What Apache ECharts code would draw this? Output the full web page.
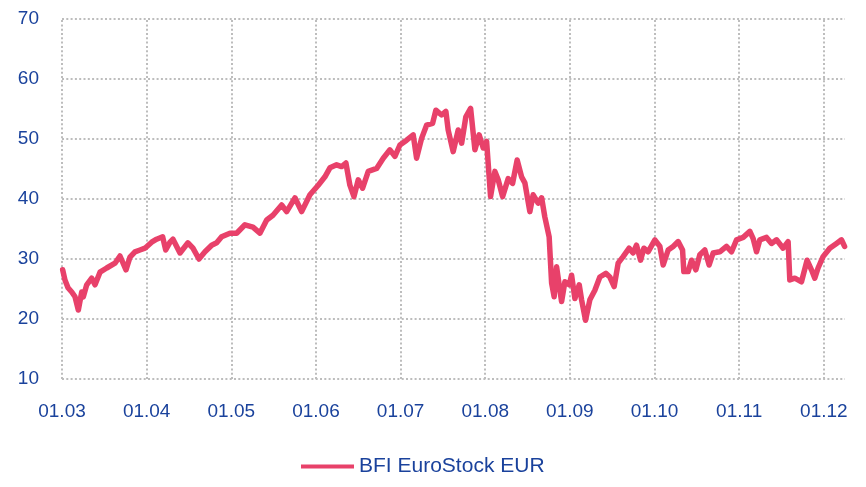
<!DOCTYPE html>
<html>
<head>
<meta charset="utf-8">
<title>BFI EuroStock EUR</title>
<script src="https://cdn.jsdelivr.net/npm/echarts@6/dist/echarts.min.js"></script>
<style>
  html, body { margin: 0; padding: 0; background: #fff; }
  #chart { width: 866px; height: 487px; }
</style>
</head>
<body>
<div id="chart"></div>
<script>
// time in years since 2003-01-01
const years = [
  0.008, 0.035, 0.071, 0.115, 0.154, 0.193, 0.233, 0.252, 0.292, 0.351,
  0.390, 0.449, 0.528, 0.626, 0.685, 0.756, 0.803, 0.862, 0.921, 0.980,
  1.059, 1.118, 1.189, 1.225, 1.276, 1.311, 1.394, 1.488, 1.547, 1.618,
  1.689, 1.768, 1.827, 1.886, 1.984, 2.063, 2.161, 2.256, 2.338, 2.418,
  2.492, 2.595, 2.654, 2.752, 2.831, 2.929, 3.027, 3.106, 3.165, 3.244,
  3.303, 3.354, 3.401, 3.449, 3.500, 3.551, 3.618, 3.717, 3.795, 3.874,
  3.933, 3.992, 4.071, 4.149, 4.189, 4.248, 4.307, 4.378, 4.417, 4.484,
  4.535, 4.562, 4.621, 4.681, 4.721, 4.771, 4.827, 4.878, 4.928, 4.976,
  5.016, 5.063, 5.114, 5.153, 5.205, 5.271, 5.323, 5.377, 5.429, 5.468,
  5.527, 5.566, 5.625, 5.666, 5.704, 5.755, 5.784, 5.814, 5.843, 5.882,
  5.902, 5.941, 5.992, 6.020, 6.059, 6.110, 6.138, 6.185, 6.236, 6.295,
  6.354, 6.425, 6.472, 6.523, 6.570, 6.629, 6.700, 6.747, 6.787, 6.835,
  6.874, 6.924, 7.004, 7.063, 7.102, 7.161, 7.220, 7.279, 7.331, 7.346,
  7.397, 7.437, 7.488, 7.535, 7.594, 7.645, 7.692, 7.771, 7.850, 7.910,
  7.969, 8.047, 8.126, 8.165, 8.205, 8.244, 8.323, 8.382, 8.441, 8.519,
  8.578, 8.598, 8.657, 8.736, 8.802, 8.854, 8.893, 8.932, 8.991, 9.070,
  9.150, 9.208, 9.245
];
const prices = [
  28.2, 26.5, 25.2, 24.5, 23.7, 21.5, 24.5, 23.7, 25.7, 26.8,
  25.7, 27.8, 28.5, 29.3, 30.5, 28.2, 30.3, 31.2, 31.5, 31.8,
  32.8, 33.3, 33.7, 31.5, 32.8, 33.3, 31.0, 32.7, 31.8, 30.0,
  31.2, 32.3, 32.7, 33.7, 34.3, 34.3, 35.7, 35.3, 34.3, 36.5,
  37.3, 39.0, 37.9, 40.2, 37.9, 40.7, 42.3, 43.7, 45.2, 45.7,
  45.4, 46.0, 42.3, 40.4, 43.2, 41.8, 44.6, 45.1, 46.8, 48.2,
  47.1, 49.0, 49.8, 50.7, 46.8, 50.1, 52.3, 52.6, 54.8, 54.0,
  54.6, 51.5, 47.9, 51.5, 49.3, 53.7, 55.1, 48.2, 50.7, 48.5,
  49.6, 40.4, 44.6, 43.2, 40.4, 43.4, 42.6, 46.5, 43.7, 42.7,
  37.9, 40.7, 39.3, 40.2, 37.0, 33.7, 26.0, 23.7, 28.7, 24.8,
  22.9, 26.2, 25.7, 27.3, 23.4, 25.7, 23.2, 19.8, 23.2, 24.8,
  27.0, 27.6, 27.0, 25.4, 29.3, 30.4, 31.8, 31.0, 32.3, 29.8,
  31.8, 31.2, 33.2, 32.1, 29.0, 31.5, 32.1, 32.9, 31.5, 27.9,
  27.9, 29.8, 28.2, 30.7, 31.5, 29.0, 31.0, 31.2, 32.1, 31.2,
  33.2, 33.6, 34.6, 33.4, 31.2, 33.2, 33.6, 32.6, 33.2, 31.8,
  32.9, 26.5, 26.8, 26.2, 29.8, 28.2, 26.8, 28.5, 30.4, 31.8,
  32.6, 33.2, 32.1
];
const startYear = 2003;
const endYear = 2012.25;
const yearTicks = [2003, 2004, 2005, 2006, 2007, 2008, 2009, 2010, 2011, 2012];

const blue = '#1a429c';
const gridGray = '#bdbdbd';
const dots = [2, 2.3];

const chart = echarts.init(document.getElementById('chart'));
chart.setOption({
  animation: false,
  textStyle: {fontFamily: 'Liberation Sans, Arial, sans-serif'},
  grid: {left: 62, right: 21, top: 19, bottom: 108},
  legend: {
    left: 301,
    top: 456,
    padding: 0,
    icon: 'rect',
    itemWidth: 53,
    itemHeight: 4,
    textStyle: {color: blue, fontSize: 21},
    data: ['BFI EuroStock EUR']
  },
  xAxis: {
    type: 'value',
    min: startYear,
    max: endYear,
    interval: 1,
    axisLine: {show: false},
    axisTick: {show: false},
    splitLine: {show: false},
    axisLabel: {
      color: blue,
      fontSize: 19,
      margin: 23,
      formatter: v => Number.isInteger(v) ? '01.' + String(v).slice(2) : ''
    }
  },
  yAxis: {
    type: 'value',
    min: 10,
    max: 70,
    interval: 10,
    axisLine: {show: false},
    axisTick: {show: false},
    axisLabel: {color: blue, fontSize: 19, margin: 23},
    splitLine: {lineStyle: {color: gridGray, type: dots, width: 2}}
  },
  series: [{
    name: 'BFI EuroStock EUR',
    type: 'line',
    showSymbol: false,
    symbol: 'none',
    color: '#e8416a',
    lineStyle: {width: 5.5, color: '#e8416a', join: 'round', cap: 'round'},
    data: years.map((t, i) => [startYear + t, prices[i]]),
    markLine: {
      silent: true,
      z: 1,
      symbol: ['none', 'none'],
      label: {show: false},
      lineStyle: {color: gridGray, type: dots, width: 2},
      data: yearTicks.map(y => ({xAxis: y}))
    }
  }]
});
</script>
</body>
</html>
